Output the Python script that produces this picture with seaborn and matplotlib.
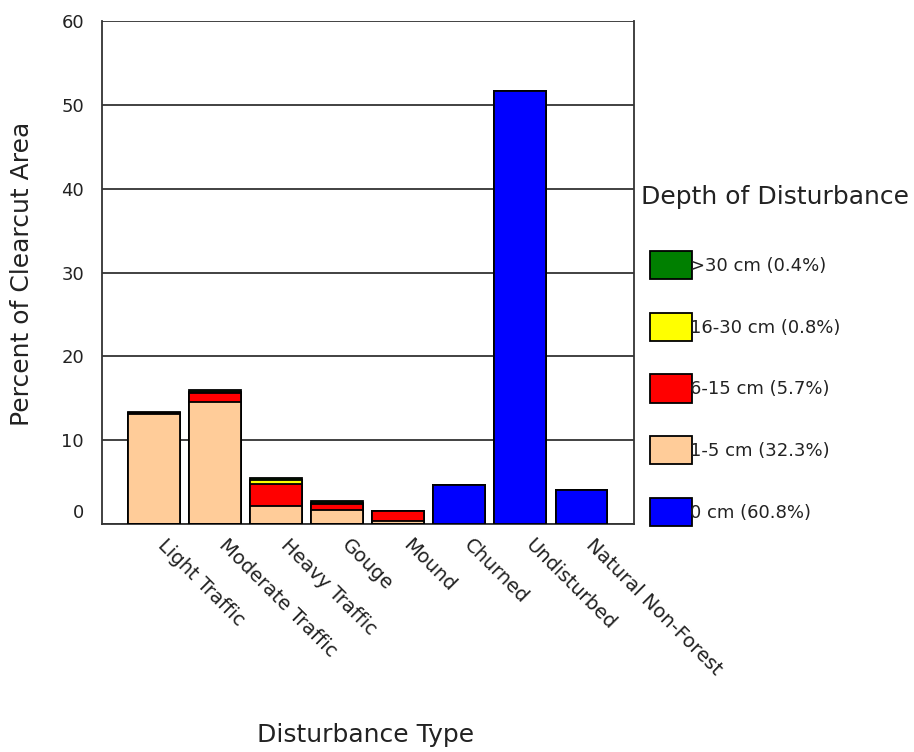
import matplotlib
matplotlib.use("Agg")
import matplotlib.pyplot as plt
import matplotlib.transforms as mtransforms
from matplotlib.patches import Patch
import numpy as np
import pandas as pd
import seaborn as sns

# disturbance types along the x-axis
categories = ["Light Traffic", "Moderate Traffic", "Heavy Traffic", "Gouge",
              "Mound", "Churned", "Undisturbed", "Natural Non-Forest"]

# percent of clearcut area per depth class (stacked bottom to top)
depth_0cm = [0, 0, 0, 0, 0, 4.6, 51.6, 4.05]
depth_1_5cm = [13.1, 14.5, 2.15, 1.7, 0.3, 0, 0, 0]
depth_6_15cm = [0.15, 1.1, 2.6, 0.65, 1.2, 0, 0, 0]
depth_16_30cm = [0.05, 0.2, 0.5, 0.2, 0.0, 0, 0, 0]
depth_30cm = [0.05, 0.15, 0.25, 0.2, 0.0, 0, 0, 0]

layers = [
	("0 cm (60.8%)", depth_0cm, "#0000FF"),
	("1-5 cm (32.3%)", depth_1_5cm, "#FFCC99"),
	("6-15 cm (5.7%)", depth_6_15cm, "#FF0000"),
	("16-30 cm (0.8%)", depth_16_30cm, "#FFFF00"),
	(">30 cm (0.4%)", depth_30cm, "#007F00"),
]

TEXT = "#222222"

if __name__ == "__main__":
	sns.set_style("white")
	plt.rcParams["font.family"] = ["DejaVu Sans"]

	fig = plt.figure(figsize=(9.14, 7.52), dpi=100)
	ax = fig.add_axes([102 / 914, 1 - 524 / 752, (634 - 102) / 914, (524 - 21) / 752])

	# stacked bars: draw cumulative totals from the top layer down
	data = pd.DataFrame({"type": categories})
	cum = np.zeros(len(categories))
	cums = []
	for name, vals, color in layers:
		cum = cum + np.array(vals)
		cums.append((name, cum.copy(), color))

	for name, height, color in reversed(cums):
		sns.barplot(x=data["type"], y=height, color=color, saturation=1,
			edgecolor="black", linewidth=1.3, width=0.85, ax=ax, zorder=3)

	# axes styling
	ax.set_ylim(0, 60)
	ax.set_xlim(-0.85, 7.86)
	ax.set_yticks(range(0, 61, 10))
	ax.yaxis.grid(True, color="#333333", linewidth=1.3, zorder=0)
	ax.set_axisbelow(True)
	for side in ["left", "right", "bottom"]:
		ax.spines[side].set_visible(True)
		ax.spines[side].set_color("#333333")
		ax.spines[side].set_linewidth(1.3)
	ax.spines["top"].set_visible(False)
	ax.tick_params(axis="y", length=0, labelsize=13, colors=TEXT, pad=13)
	ax.tick_params(axis="x", length=0, colors=TEXT, pad=8)

	# the "0" label sits a little above the baseline in the original
	ylabels = ax.get_yticklabels()
	ylabels[0].set_transform(ylabels[0].get_transform()
		+ mtransforms.ScaledTranslation(0, 13 / 100, fig.dpi_scale_trans))

	ax.set_xticks(range(len(categories)))
	ax.set_xticklabels(categories, rotation=-45, ha="left", va="top",
		rotation_mode="anchor", fontsize=14)
	shift = mtransforms.ScaledTranslation(14 / 100, 0, fig.dpi_scale_trans)
	for lbl in ax.get_xticklabels():
		lbl.set_transform(lbl.get_transform() + shift)

	ax.set_xlabel("")
	ax.set_ylabel("")
	fig.text(22 / 914, 1 - 274 / 752, "Percent of Clearcut Area", rotation=90,
		ha="center", va="center", fontsize=18, color=TEXT)
	fig.text(366 / 914, 1 - 735 / 752, "Disturbance Type",
		ha="center", va="center", fontsize=18, color=TEXT)

	# legend
	fig.text(641 / 914, 1 - 197 / 752, "Depth of Disturbance",
		ha="left", va="center", fontsize=18, color=TEXT)
	handles = [Patch(facecolor=c, edgecolor="black", linewidth=1.3, label=n)
		for n, _, c in reversed(layers)]
	fig.legend(handles=handles, loc="upper left",
		bbox_to_anchor=(650 / 914, 1 - 251 / 752), frameon=False, fontsize=13,
		handlelength=2.33, handleheight=2.02, handletextpad=-0.1,
		labelspacing=1.86, borderpad=0, borderaxespad=0, labelcolor=TEXT)

	plt.savefig("out.png", dpi=100)
	plt.close()
